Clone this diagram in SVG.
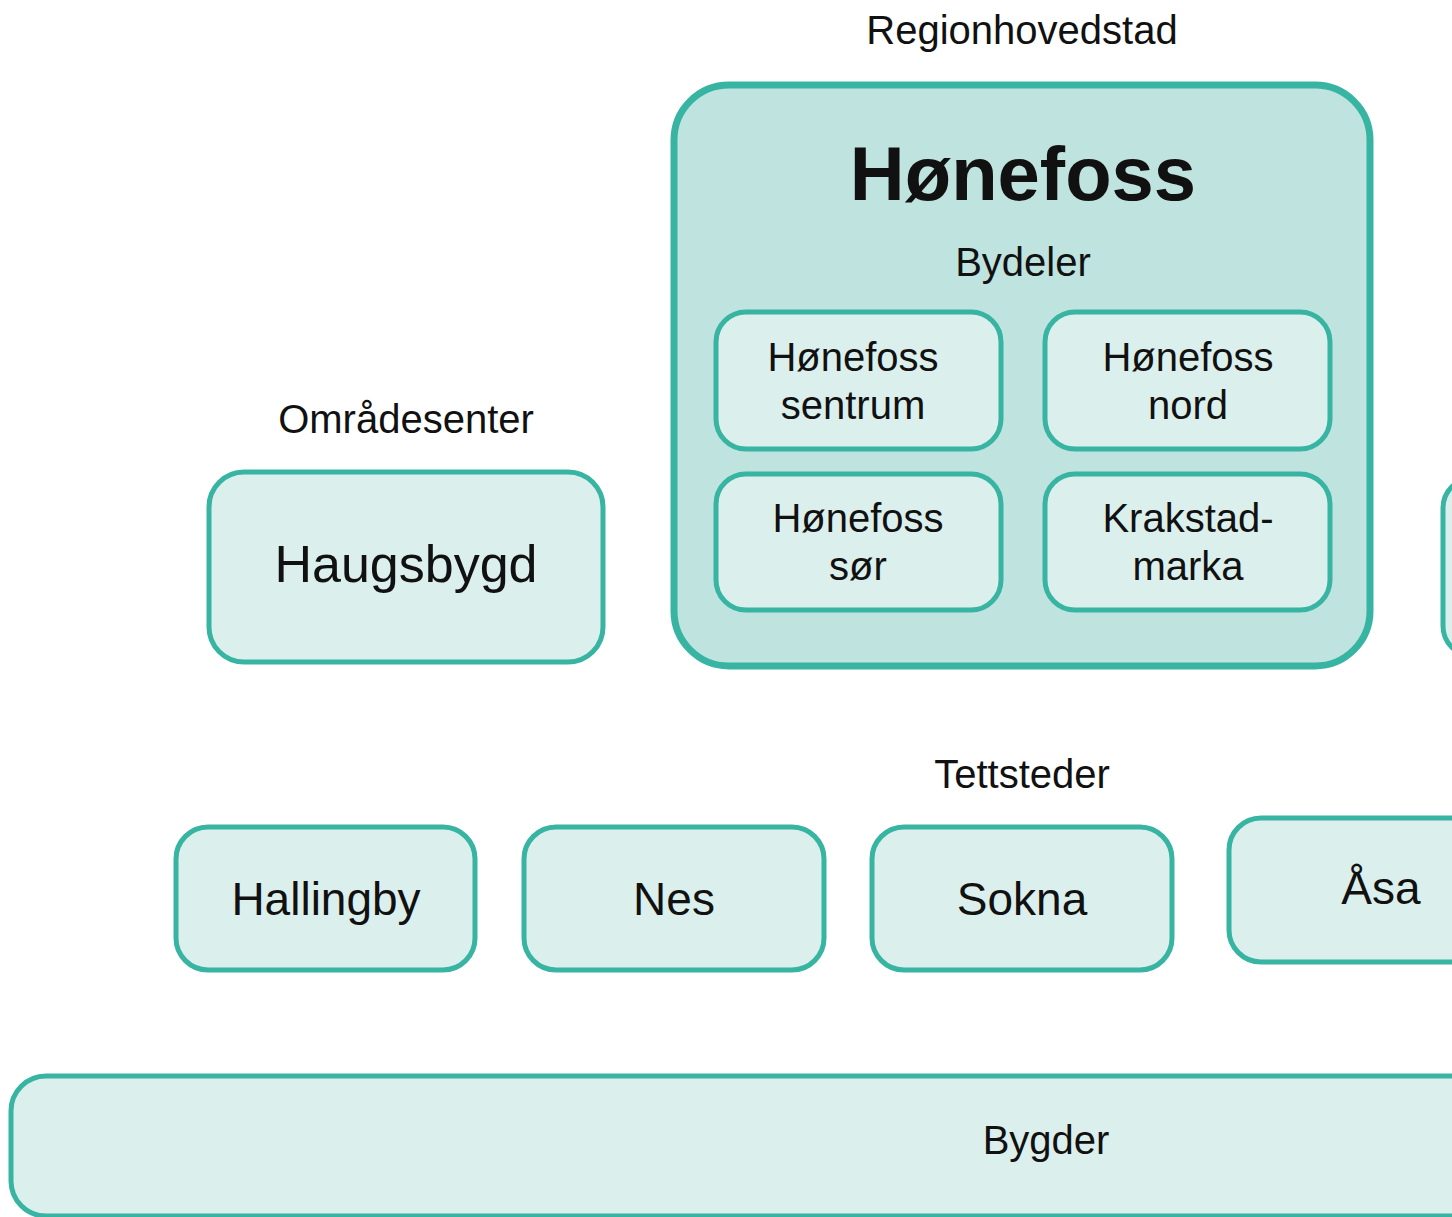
<svg xmlns="http://www.w3.org/2000/svg" width="1452" height="1217" viewBox="0 0 1452 1217">
<style>
.box{fill:#dbefec;stroke:#38b4a3;stroke-width:5}
.big{fill:#bfe3df;stroke:#38b4a3;stroke-width:7}
text{font-family:"Liberation Sans",Arial,sans-serif;fill:#111;text-anchor:middle}
.lbl{font-size:40px}
.mid{font-size:46px}
.lg{font-size:52px}
.title{font-size:76px;font-weight:bold}
</style>
<rect width="1452" height="1217" fill="#ffffff"/>
<g id="connectors"></g>
<g id="label-regionhovedstad"><text class="lbl" x="1022" y="44">Regionhovedstad</text></g>
<g id="honefoss">
<rect class="big" x="674" y="85" width="696" height="581" rx="55"/>
<text class="title" x="1023" y="200">Hønefoss</text>
<text class="lbl" x="1023" y="276">Bydeler</text>
</g>
<g id="honefoss-sentrum"><rect class="box" x="716" y="312" width="285" height="137" rx="30"/><text class="lbl" x="853" y="371">Hønefoss</text><text class="lbl" x="853" y="419">sentrum</text></g>
<g id="honefoss-nord"><rect class="box" x="1045" y="312" width="285" height="137" rx="30"/><text class="lbl" x="1188" y="371">Hønefoss</text><text class="lbl" x="1188" y="419">nord</text></g>
<g id="honefoss-sor"><rect class="box" x="716" y="474" width="285" height="136" rx="30"/><text class="lbl" x="858" y="532">Hønefoss</text><text class="lbl" x="858" y="580">sør</text></g>
<g id="krakstadmarka"><rect class="box" x="1045" y="474" width="285" height="136" rx="30"/><text class="lbl" x="1188" y="532">Krakstad-</text><text class="lbl" x="1188" y="580">marka</text></g>
<g id="label-omradesenter"><text class="lbl" x="406" y="433">Områdesenter</text></g>
<g id="haugsbygd"><rect class="box" x="209" y="472" width="394" height="190" rx="35"/><text class="lg" x="406" y="582">Haugsbygd</text></g>
<g id="right-node"><rect class="box" x="1443" y="478" width="200" height="178" rx="30"/></g>
<g id="label-tettsteder"><text class="lbl" x="1022" y="788">Tettsteder</text></g>
<g id="hallingby"><rect class="box" x="176" y="827" width="299" height="143" rx="32"/><text class="mid" x="326" y="915">Hallingby</text></g>
<g id="nes"><rect class="box" x="524" y="827" width="300" height="143" rx="32"/><text class="mid" x="674" y="915">Nes</text></g>
<g id="sokna"><rect class="box" x="872" y="827" width="300" height="143" rx="32"/><text class="mid" x="1022" y="915">Sokna</text></g>
<g id="asa"><rect class="box" x="1229" y="818" width="310" height="144" rx="32"/><text class="mid" x="1381" y="904">Åsa</text></g>
<g id="bygder"><rect class="box" x="11" y="1076" width="1500" height="140" rx="35"/><text class="lbl" x="1046" y="1154">Bygder</text></g>
</svg>
